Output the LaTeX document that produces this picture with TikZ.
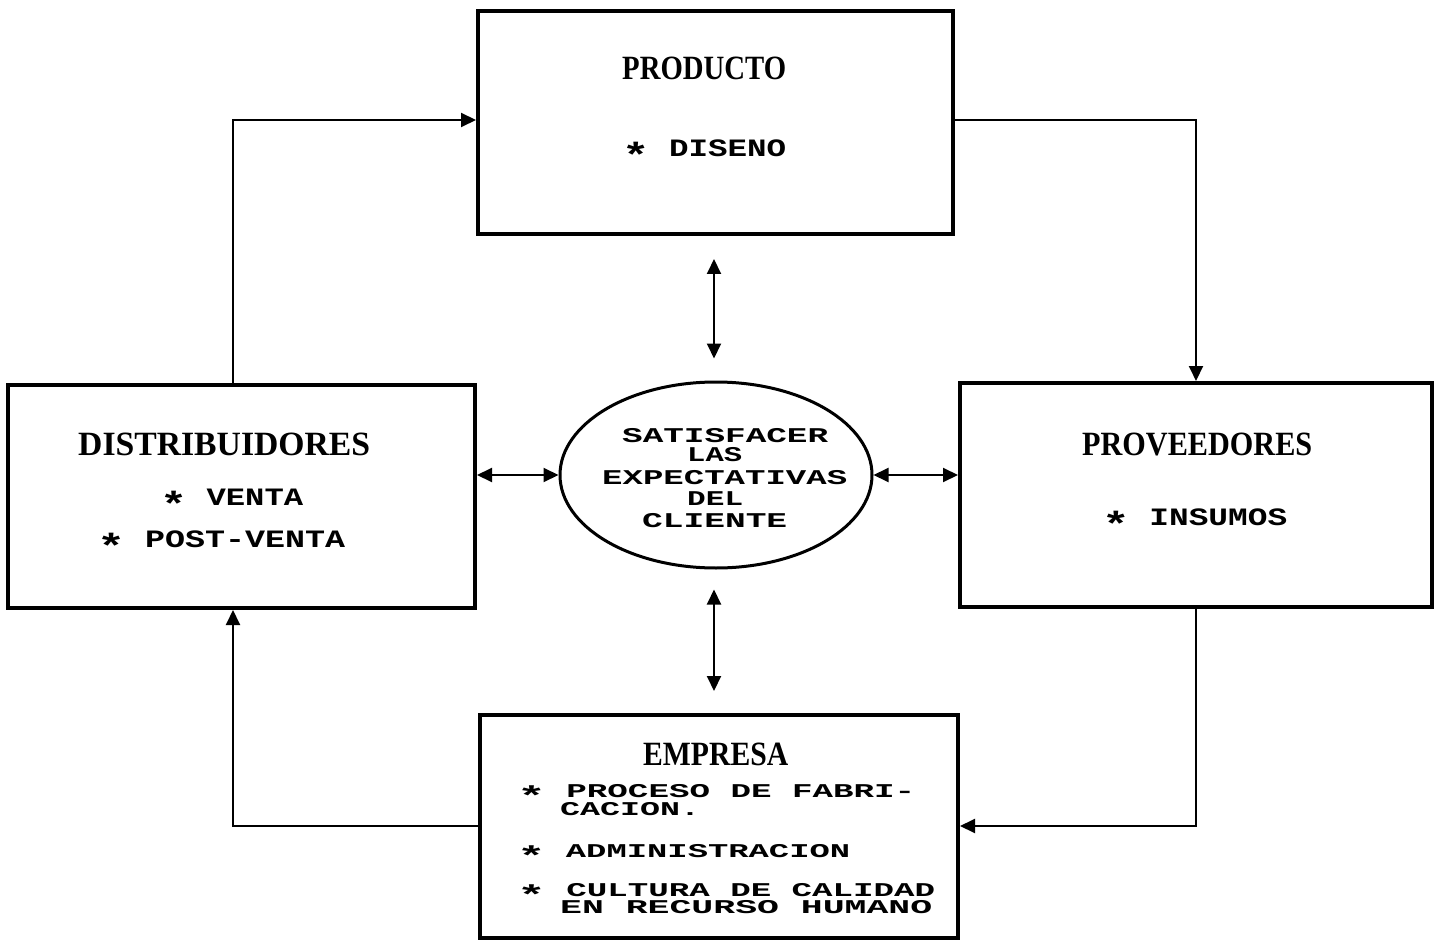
\documentclass[tikz,border=0pt]{standalone}
\usepackage{fontspec}
\usepackage{graphicx}
\setmainfont{Liberation Serif}
\newfontfamily\monofont{Liberation Mono}
\usetikzlibrary{arrows.meta,shapes.geometric,calc}

% stretch or squeeze one line of text to a given width, keeping its height
\newcommand{\fitline}[2]{\resizebox{#1}{\height}{#2}}
% list bullet: a large asterisk set on the middle of the capitals
\newcommand{\bul}{\raisebox{-0.44em}[0.6em][0pt]{\scalebox{1.4}{*}}}

\begin{document}
\begin{tikzpicture}[x=1pt,y=-1pt,
  box/.style={draw,line width=4pt,rectangle,inner sep=0},
  tip/.tip={Triangle[length=15pt,width=14pt]},
  conn/.style={line width=2pt,-tip},
  dbl/.style={line width=2pt,tip-tip},
  ttl/.style={inner sep=0,anchor=base west,font=\bfseries\fontsize{34}{34}\selectfont},
  itm/.style={inner sep=0,anchor=base west,font=\monofont\bfseries\fontsize{25}{25}\selectfont},
  eitm/.style={inner sep=0,anchor=base west,font=\monofont\bfseries\fontsize{21}{21}\selectfont},
  sitm/.style={inner sep=0,anchor=base west,font=\monofont\bfseries\fontsize{19.5}{19.5}\selectfont},
]
\useasboundingbox (0,0) rectangle (1440,941);

% the four blocks and the central goal
\node[box,minimum width=475pt,minimum height=223pt] (prod) at (715.5,122.5) {};
\node[box,minimum width=467pt,minimum height=223pt] (dist) at (241.5,496.5) {};
\node[box,minimum width=472pt,minimum height=224pt] (prov) at (1196,495) {};
\node[box,minimum width=478pt,minimum height=223pt] (emp) at (719,826.5) {};
\node[draw,ellipse,line width=3pt,minimum width=312pt,minimum height=186pt,inner sep=0] (ell) at (716,475) {};

% texts of the blocks
\node[ttl] (tprod) at (622,80) {\fitline{164pt}{PRODUCTO}};
\node[itm] (iprod) at (622,157) {\fitline{164pt}{\bul{} DISENO}};

\node[ttl] (tdist) at (78,455) {\fitline{292pt}{DISTRIBUIDORES}};
\node[itm] (idist1) at (160,505) {\fitline{143pt}{\bul{} VENTA}};
\node[itm] (idist2) at (97,547) {\fitline{248pt}{\bul{} POST-VENTA}};

\node[ttl] (tprov) at (1082,455) {\fitline{230pt}{PROVEEDORES}};
\node[itm] (iprov) at (1102,525) {\fitline{185pt}{\bul{} INSUMOS}};

\node[eitm] (e1) at (622,442) {\fitline{206pt}{SATISFACER}};
\node[eitm] (e2) at (687,461) {\fitline{55pt}{LAS}};
\node[eitm] (e3) at (602,484) {\fitline{245pt}{EXPECTATIVAS}};
\node[eitm] (e4) at (687,505) {\fitline{56pt}{DEL}};
\node[eitm] (e5) at (642,527) {\fitline{145pt}{CLIENTE}};

\node[ttl] (temp) at (643,765) {\fitline{145pt}{EMPRESA}};
\node[sitm] (iemp1) at (517,797) {\fitline{398pt}{\bul{} PROCESO DE FABRI-}};
\node[sitm] (iemp1b) at (560,815) {\fitline{140pt}{CACION.}};
\node[sitm] (iemp2) at (517,857) {\fitline{333pt}{\bul{} ADMINISTRACION}};
\node[sitm] (iemp3) at (517,896) {\fitline{418pt}{\bul{} CULTURA DE CALIDAD}};
\node[sitm] (iemp3b) at (560,913) {\fitline{372pt}{EN RECURSO HUMANO}};

% corners of the outer cycle
\coordinate (tl) at (233,120);
\coordinate (tr) at (1196,120);
\coordinate (br) at (1196,826);
\coordinate (bl) at (233,826);

% outer cycle
\draw[conn] (dist.north -| tl) |- (prod.west |- tl);
\draw[conn] (prod.east |- tr) -| (prov.north -| tr);
\draw[conn] (prov.south -| br) |- (emp.east |- br);
\draw[conn] (emp.west |- bl) -| (dist.south -| bl);

% links with the central goal
\draw[dbl,shorten <=23pt,shorten >=22pt] (prod.south -| 714,0) -- (ell.north -| 714,0);
\draw[dbl,shorten <=20pt,shorten >=22pt] (ell.south -| 714,0) -- (emp.north -| 714,0);
\draw[dbl] (dist.east |- ell.west) -- (ell.west);
\draw[dbl] (ell.east) -- (prov.west |- ell.east);
\end{tikzpicture}
\end{document}
